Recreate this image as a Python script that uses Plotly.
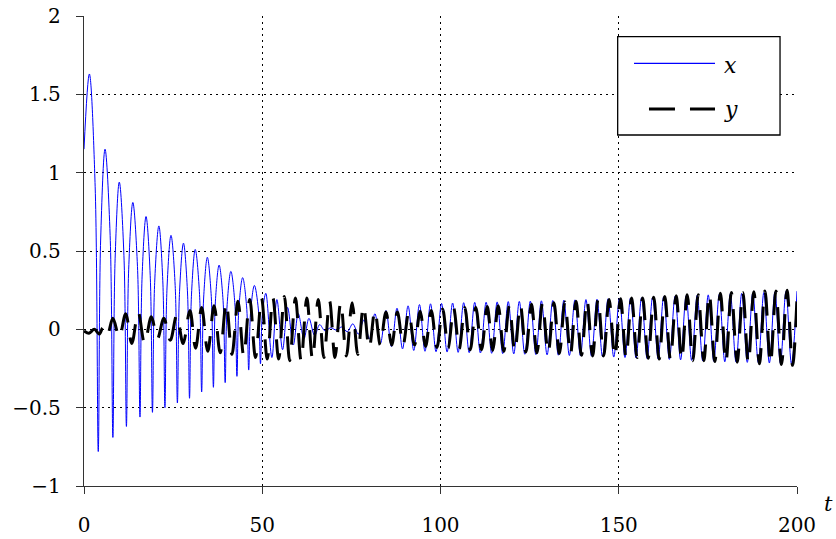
import plotly.graph_objects as go

# ---- data (extrema / shoulder points of each signal, in time order) ----
X_T = [0, 1.5, 3.13, 4.0, 4.67, 5.9, 7.33, 8.1, 8.73, 9.9, 11.2, 11.9, 12.53, 13.7, 15.0,
       15.7, 16.3, 17.4, 18.57, 19.2, 19.83, 21.0, 22.1, 22.7, 23.3, 24.4, 25.57, 26.2, 26.8,
       27.9, 29.0, 29.6, 30.16, 31.2, 32.37, 33.0, 33.56, 34.6, 35.7, 36.3, 36.86, 37.9, 39.0,
       39.6, 40.16, 41.2, 42.3, 42.9, 43.46, 44.5, 45.6, 46.2, 46.76, 47.8, 48.9, 49.5, 50.03,
       51.0, 52.7, 54.1, 55.7, 57.1, 58.7, 60.1, 61.7, 63.1, 64.7, 66.1, 67.6, 69.2, 70.8,
       72.3, 73.85, 75.4, 76.95, 78.5, 80.05, 81.6, 83.15, 84.7, 86.25, 87.8, 89.35, 90.9,
       92.5, 94.1, 95.65, 97.2, 98.75, 100.3, 101.85, 103.4, 104.95, 106.5, 108.05, 109.6,
       111.2, 112.8, 114.35, 115.9, 117.45, 119.0, 120.55, 122.1, 123.65, 125.2, 126.75,
       128.3, 129.9, 131.5, 133.05, 134.6, 136.15, 137.7, 139.25, 140.8, 142.35, 143.9,
       145.45, 147.0, 148.6, 150.2, 151.75, 153.3, 154.85, 156.4, 157.95, 159.5, 161.05,
       162.6, 164.2, 165.8, 167.35, 168.9, 170.45, 172.0, 173.55, 175.1, 176.65, 178.2,
       179.75, 181.3, 182.9, 184.5, 186.05, 187.6, 189.15, 190.7, 192.25, 193.8, 195.35,
       196.9, 198.45, 200.0]
X_V = [1.15, 1.63, 0.91, -0.78, 0.57, 1.15, 0.60, -0.69, 0.45, 0.94, 0.47, -0.62, 0.38, 0.81,
       0.40, -0.56, 0.34, 0.72, 0.345, -0.53, 0.30, 0.66, 0.31, -0.50, 0.27, 0.60, 0.28, -0.47,
       0.24, 0.55, 0.25, -0.44, 0.225, 0.51, 0.24, -0.40, 0.20, 0.46, 0.21, -0.37, 0.18, 0.41,
       0.185, -0.34, 0.16, 0.37, 0.17, -0.30, 0.14, 0.33, 0.15, -0.26, 0.12, 0.28, 0.13, -0.22,
       0.095, 0.23, -0.18, 0.19, -0.13, 0.14, -0.10, 0.10, -0.06, 0.07, -0.04,
       0.03, -0.01, 0.01, -0.005, 0.015, -0.015, 0.035, -0.03, 0.06, -0.06, 0.10, -0.09,
       0.12, -0.11, 0.135, -0.125, 0.15, -0.135, 0.158, -0.14, 0.163, -0.143, 0.165, -0.145,
       0.168, -0.147, 0.170, -0.149, 0.172, -0.151, 0.173, -0.153, 0.175, -0.155, 0.177,
       -0.157, 0.178, -0.159, 0.180, -0.161, 0.182, -0.163, 0.184, -0.165, 0.186, -0.167,
       0.188, -0.169, 0.190, -0.171, 0.192, -0.174, 0.195, -0.177, 0.197, -0.180, 0.200,
       -0.183, 0.202, -0.186, 0.205, -0.189, 0.208, -0.192, 0.211, -0.195, 0.214, -0.198,
       0.217, -0.201, 0.220, -0.204, 0.223, -0.207, 0.226, -0.209, 0.229, -0.211, 0.232,
       -0.213, 0.235, -0.215, 0.238, -0.217, 0.241, -0.219, 0.244]

Y_T = [0, 1.4, 2.9, 4.3, 5.3, 6.5, 8.1, 9.9, 11.7, 13.4, 15.2, 17.0, 18.9, 20.6, 22.4,
       24.2, 26.0, 27.8, 29.7, 31.3, 33.0, 34.7, 36.5, 38.2, 39.9, 41.5, 43.2, 44.8, 46.5,
       48.1, 49.8, 51.4, 53.0, 54.6, 56.2, 57.7, 59.3, 60.9, 62.5, 64.1, 65.7, 67.3, 68.9,
       70.4, 72.0, 73.6, 75.2, 76.8, 78.4, 80.0, 81.6, 83.1, 84.7, 86.3, 87.9, 89.5, 91.1,
       92.7, 94.3, 95.8, 97.4, 99.0, 100.6, 102.15, 103.7, 105.25, 106.8, 108.35, 109.9,
       111.5, 113.1, 114.65, 116.2, 117.75, 119.3, 120.85, 122.4, 123.95, 125.5, 127.05,
       128.6, 130.2, 131.8, 133.35, 134.9, 136.45, 138.0, 139.55, 141.1, 142.65, 144.2,
       145.75, 147.3, 148.9, 150.5, 152.05, 153.6, 155.15, 156.7, 158.25, 159.8, 161.35,
       162.9, 164.5, 166.1, 167.65, 169.2, 170.75, 172.3, 173.85, 175.4, 176.95, 178.5,
       180.05, 181.6, 183.2, 184.8, 186.35, 187.9, 189.45, 191.0, 192.55, 194.1, 195.65,
       197.2, 198.75, 200.0]
Y_V = [-0.01, -0.025, 0.0, -0.03, 0.01, -0.04, 0.07, -0.05, 0.10, -0.09, 0.11, -0.09, 0.08,
       -0.06, 0.07, -0.07, 0.09, -0.09, 0.12, -0.12, 0.14, -0.14, 0.15, -0.15, 0.17, -0.16,
       0.18, -0.17, 0.19, -0.18, 0.20, -0.19, 0.20, -0.19, 0.21, -0.20, 0.20, -0.20, 0.20,
       -0.19, 0.19, -0.18, 0.18, -0.18, 0.17, -0.17, 0.17, -0.16, 0.15, -0.12, 0.12, -0.10,
       0.11, -0.10, 0.11, -0.10, 0.11, -0.10, 0.115, -0.11, 0.12, -0.115, 0.13, -0.12, 0.135,
       -0.125, 0.14, -0.13, 0.14, -0.13, 0.145, -0.135, 0.15, -0.14, 0.15, -0.14, 0.155,
       -0.145, 0.16, -0.15, 0.165, -0.15, 0.17, -0.155, 0.175, -0.16, 0.18, -0.165, 0.185,
       -0.17, 0.19, -0.17, 0.19, -0.175, 0.195, -0.18, 0.20, -0.18, 0.20, -0.185, 0.205,
       -0.19, 0.21, -0.19, 0.215, -0.195, 0.22, -0.20, 0.22, -0.20, 0.225, -0.205, 0.23,
       -0.21, 0.235, -0.21, 0.235, -0.215, 0.24, -0.22, 0.245, -0.22, 0.245, -0.225, 0.25,
       -0.23, 0.20]

X_TICKS = [0, 50, 100, 150, 200]
Y_TICKS = [-1, -0.5, 0, 0.5, 1, 1.5, 2]
SERIES_NAMES = ["x", "y"]

FONT = "DejaVu Serif"
BLUE = "#0000ff"
BLACK = "black"
Y_DASH = "26px,15px"

fig = go.Figure()
fig.add_trace(go.Scatter(x=X_T, y=X_V, mode="lines", name=SERIES_NAMES[0], showlegend=False,
                         line=dict(color=BLUE, width=1, shape="spline", smoothing=1)))
fig.add_trace(go.Scatter(x=Y_T, y=Y_V, mode="lines", name=SERIES_NAMES[1], showlegend=False,
                         line=dict(color=BLACK, width=3, dash=Y_DASH,
                                   shape="spline", smoothing=1)))

axis_common = dict(showgrid=True, gridcolor="black", griddash="2px,4px", gridwidth=1,
                   zeroline=False, showline=True, linecolor="#333", linewidth=1.3,
                   ticks="outside", ticklen=7, tickcolor="#333", tickwidth=1.2,
                   automargin=False,
                   tickfont=dict(family=FONT, size=20, color="black"))
fig.update_xaxes(range=[0, 200], tickvals=X_TICKS, ticklabelstandoff=14, **axis_common)
fig.update_yaxes(range=[-1, 2], tickvals=Y_TICKS, ticklabelstandoff=11, **axis_common)

# axis label at the end of the t axis
fig.add_annotation(text="<i>t</i>", xref="paper", yref="paper", x=1.0435, y=-0.038,
                   xanchor="center", yanchor="middle",
                   showarrow=False, font=dict(family=FONT, size=21, color="black"))

# legend box (drawn manually to match the reference layout)
fig.add_shape(type="rect", xref="paper", yref="paper", x0=0.7485, x1=0.9762, y0=0.7468, y1=0.956,
              line=dict(color="black", width=1.3), fillcolor="white", layer="above")
fig.add_shape(type="line", xref="paper", yref="paper", x0=0.7714, x1=0.885, y0=0.8994, y1=0.8994,
              line=dict(color=BLUE, width=1.2), layer="above")
fig.add_shape(type="line", xref="paper", yref="paper", x0=0.7924, x1=0.885, y0=0.8021, y1=0.8021,
              line=dict(color=BLACK, width=3, dash=Y_DASH), layer="above")
fig.add_annotation(text="<i>%s</i>" % SERIES_NAMES[0], xref="paper", yref="paper",
                   x=0.9074, y=0.894, showarrow=False, xanchor="center", yanchor="middle",
                   font=dict(family=FONT, size=22, color="black"))
fig.add_annotation(text="<i>%s</i>" % SERIES_NAMES[1], xref="paper", yref="paper",
                   x=0.9074, y=0.800, showarrow=False, xanchor="center", yanchor="middle",
                   font=dict(family=FONT, size=22, color="black"))

fig.update_layout(
    width=836, height=539,
    margin=dict(l=84, r=39, t=16, b=53),
    paper_bgcolor="white", plot_bgcolor="white",
    showlegend=False,
)

fig.write_html("out.html")
